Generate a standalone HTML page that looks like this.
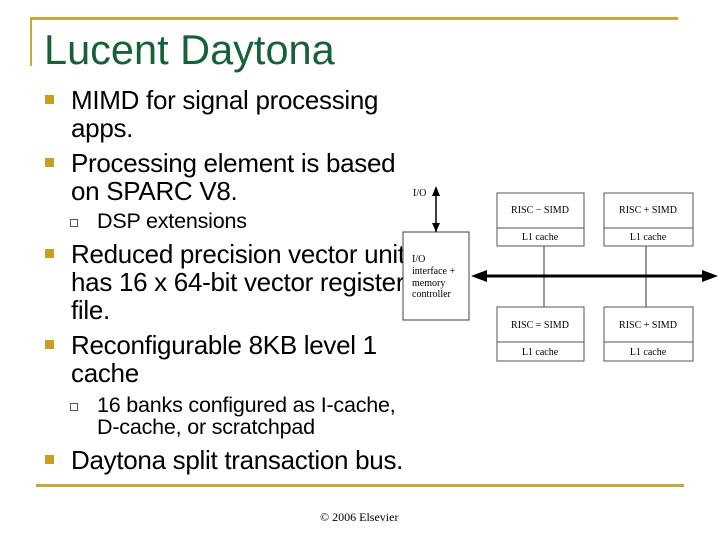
<!DOCTYPE html>
<html><head><style>
body{margin:0;width:720px;height:540px;background:#fff;position:relative;overflow:hidden;font-family:"Liberation Sans",sans-serif}
.t{position:absolute;white-space:nowrap;color:#000;line-height:1}
.m{font-size:26px;letter-spacing:-0.3px}
.s{font-size:21.5px;letter-spacing:-0.2px}
.b{position:absolute;width:9px;height:9px;background:#c8a020}
.q{position:absolute;width:6px;height:6px;border:1px solid #555}
</style></head><body>
<div style="position:absolute;left:30px;top:17px;width:648px;height:3px;background:#c8a93a"></div>
<div style="position:absolute;left:30px;top:17px;width:2px;height:49px;background:#c8a93a"></div>
<div class="t" style="left:44px;top:29px;font-size:41.5px;color:#176139">Lucent Daytona</div>
<div class="b" style="left:45px;top:95px"></div>
<div class="t m" style="left:71px;top:87px">MIMD for signal processing</div>
<div class="t m" style="left:71px;top:115px">apps.</div>
<div class="b" style="left:45px;top:158px"></div>
<div class="t m" style="left:71px;top:150px">Processing element is based</div>
<div class="t m" style="left:71px;top:178px">on SPARC V8.</div>
<div class="q" style="left:70px;top:219px"></div>
<div class="t s" style="left:97px;top:211px">DSP extensions</div>
<div class="b" style="left:45px;top:249px"></div>
<div class="t m" style="left:71px;top:241px">Reduced precision vector unit</div>
<div class="t m" style="left:71px;top:269px">has 16 x 64-bit vector register</div>
<div class="t m" style="left:71px;top:297px">file.</div>
<div class="b" style="left:45px;top:340px"></div>
<div class="t m" style="left:71px;top:332px">Reconfigurable 8KB level 1</div>
<div class="t m" style="left:71px;top:360px">cache</div>
<div class="q" style="left:70px;top:403px"></div>
<div class="t s" style="left:97px;top:395px">16 banks configured as I-cache,</div>
<div class="t s" style="left:97px;top:417px">D-cache, or scratchpad</div>
<div class="b" style="left:45px;top:455px"></div>
<div class="t m" style="left:71px;top:447px">Daytona split transaction bus.</div>
<div style="position:absolute;left:36px;top:484px;width:648px;height:3px;background:#c8a93a"></div>
<div class="t" style="left:320px;top:511px;font-size:12px;font-family:'Liberation Serif',serif">© 2006 Elsevier</div>
<svg style="position:absolute;left:0;top:0" width="720" height="540" font-family="Liberation Serif,serif" font-size="10" fill="#000">
<rect x="403" y="232" width="66" height="88" fill="#fff" stroke="#444"/>
<text x="412" y="262">I/O</text><text x="412" y="274">interface +</text><text x="412" y="286">memory</text><text x="412" y="297">controller</text>
<line x1="436" y1="192" x2="436" y2="232" stroke="#000" stroke-width="1.5"/>
<polygon points="436,186 432,196 440,196"/><polygon points="436,232 432,223 440,223"/>
<text x="413" y="196">I/O</text>
<line x1="544" y1="246" x2="544" y2="307" stroke="#333"/>
<line x1="646" y1="246" x2="646" y2="307" stroke="#333"/>
<line x1="485" y1="276" x2="704" y2="276" stroke="#000" stroke-width="3"/>
<polygon points="471,276 487,270 487,282"/><polygon points="718,276 702,270 702,282"/>
<g fill="none" stroke="#555">
<rect x="497" y="193" width="87" height="53"/><line x1="497" y1="228" x2="584" y2="228"/>
<rect x="604" y="193" width="89" height="53"/><line x1="604" y1="228" x2="693" y2="228"/>
<rect x="497" y="307" width="87" height="54"/><line x1="497" y1="342" x2="584" y2="342"/>
<rect x="604" y="307" width="89" height="54"/><line x1="604" y1="342" x2="693" y2="342"/>
</g>
<g text-anchor="middle">
<text x="540" y="213">RISC − SIMD</text><text x="540" y="240">L1 cache</text>
<text x="648" y="213">RISC + SIMD</text><text x="648" y="240">L1 cache</text>
<text x="540" y="328">RISC = SIMD</text><text x="540" y="355">L1 cache</text>
<text x="648" y="328">RISC + SIMD</text><text x="648" y="355">L1 cache</text>
</g>
</svg>
</body></html>
